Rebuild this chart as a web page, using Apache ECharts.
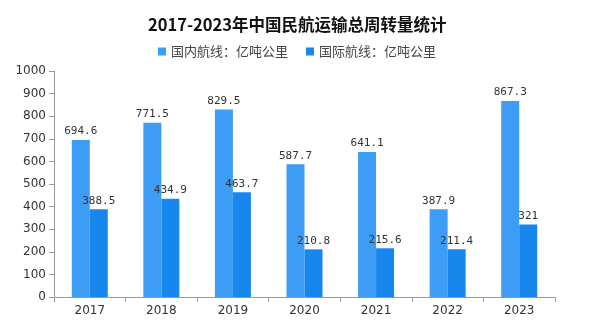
<!DOCTYPE html>
<html><head><meta charset="utf-8">
<script src="https://cdn.jsdelivr.net/npm/echarts@6/dist/echarts.min.js"></script>
<style>html,body{margin:0;padding:0;background:#fff}#c{width:593px;height:326px}</style>
</head><body><div id="c"></div>
<script>
var categories = ['2017','2018','2019','2020','2021','2022','2023'];
var domestic = [694.6, 771.5, 829.5, 587.7, 641.1, 387.9, 867.3];
var international = [388.5, 434.9, 463.7, 210.8, 215.6, 211.4, 321];
var seriesNames = ['国内航线：亿吨公里', '国际航线：亿吨公里'];
var yTicks = {min: 0, max: 1000, interval: 100};

var chart = echarts.init(document.getElementById('c'));
var labelStyle = {show: true, position: 'top', fontFamily: 'DejaVu Sans Mono', fontSize: 11, color: '#333', distance: 3};
chart.setOption({
  animation: false,
  title: {text: '2017-2023年中国民航运输总周转量统计', left: 143, top: 11,
    textStyle: {fontSize: 16.5, fontWeight: 'bold', color: '#111', fontFamily: 'Noto Sans CJK SC'}},
  legend: {top: 40, left: 153, itemWidth: 8, itemHeight: 8, itemGap: 18, icon: 'rect',
    textStyle: {fontSize: 13, color: '#444', fontFamily: 'Noto Sans CJK SC'}},
  grid: {left: 54, right: 38, top: 71, bottom: 29, containLabel: false},
  xAxis: {type: 'category', data: categories,
    axisLine: {lineStyle: {color: '#999'}},
    axisTick: {show: true, alignWithLabel: false, lineStyle: {color: '#999'}, length: 5},
    axisLabel: {color: '#333', fontSize: 12, fontFamily: 'DejaVu Sans', margin: 8}},
  yAxis: {type: 'value', min: yTicks.min, max: yTicks.max, interval: yTicks.interval,
    axisLine: {show: true, lineStyle: {color: '#999'}},
    axisTick: {show: true, lineStyle: {color: '#999'}, length: 5},
    splitLine: {show: false},
    axisLabel: {color: '#333', fontSize: 12, fontFamily: 'DejaVu Sans', margin: 8,
      formatter: function (v) { return String(v); }}},
  series: [
    {name: seriesNames[0], type: 'bar', data: domestic, barWidth: 18, barGap: '0%',
      itemStyle: {color: '#3d9cf3'}, label: labelStyle},
    {name: seriesNames[1], type: 'bar', data: international, barWidth: 18,
      itemStyle: {color: '#1787ee'}, label: labelStyle}
  ]
});
</script></body></html>
